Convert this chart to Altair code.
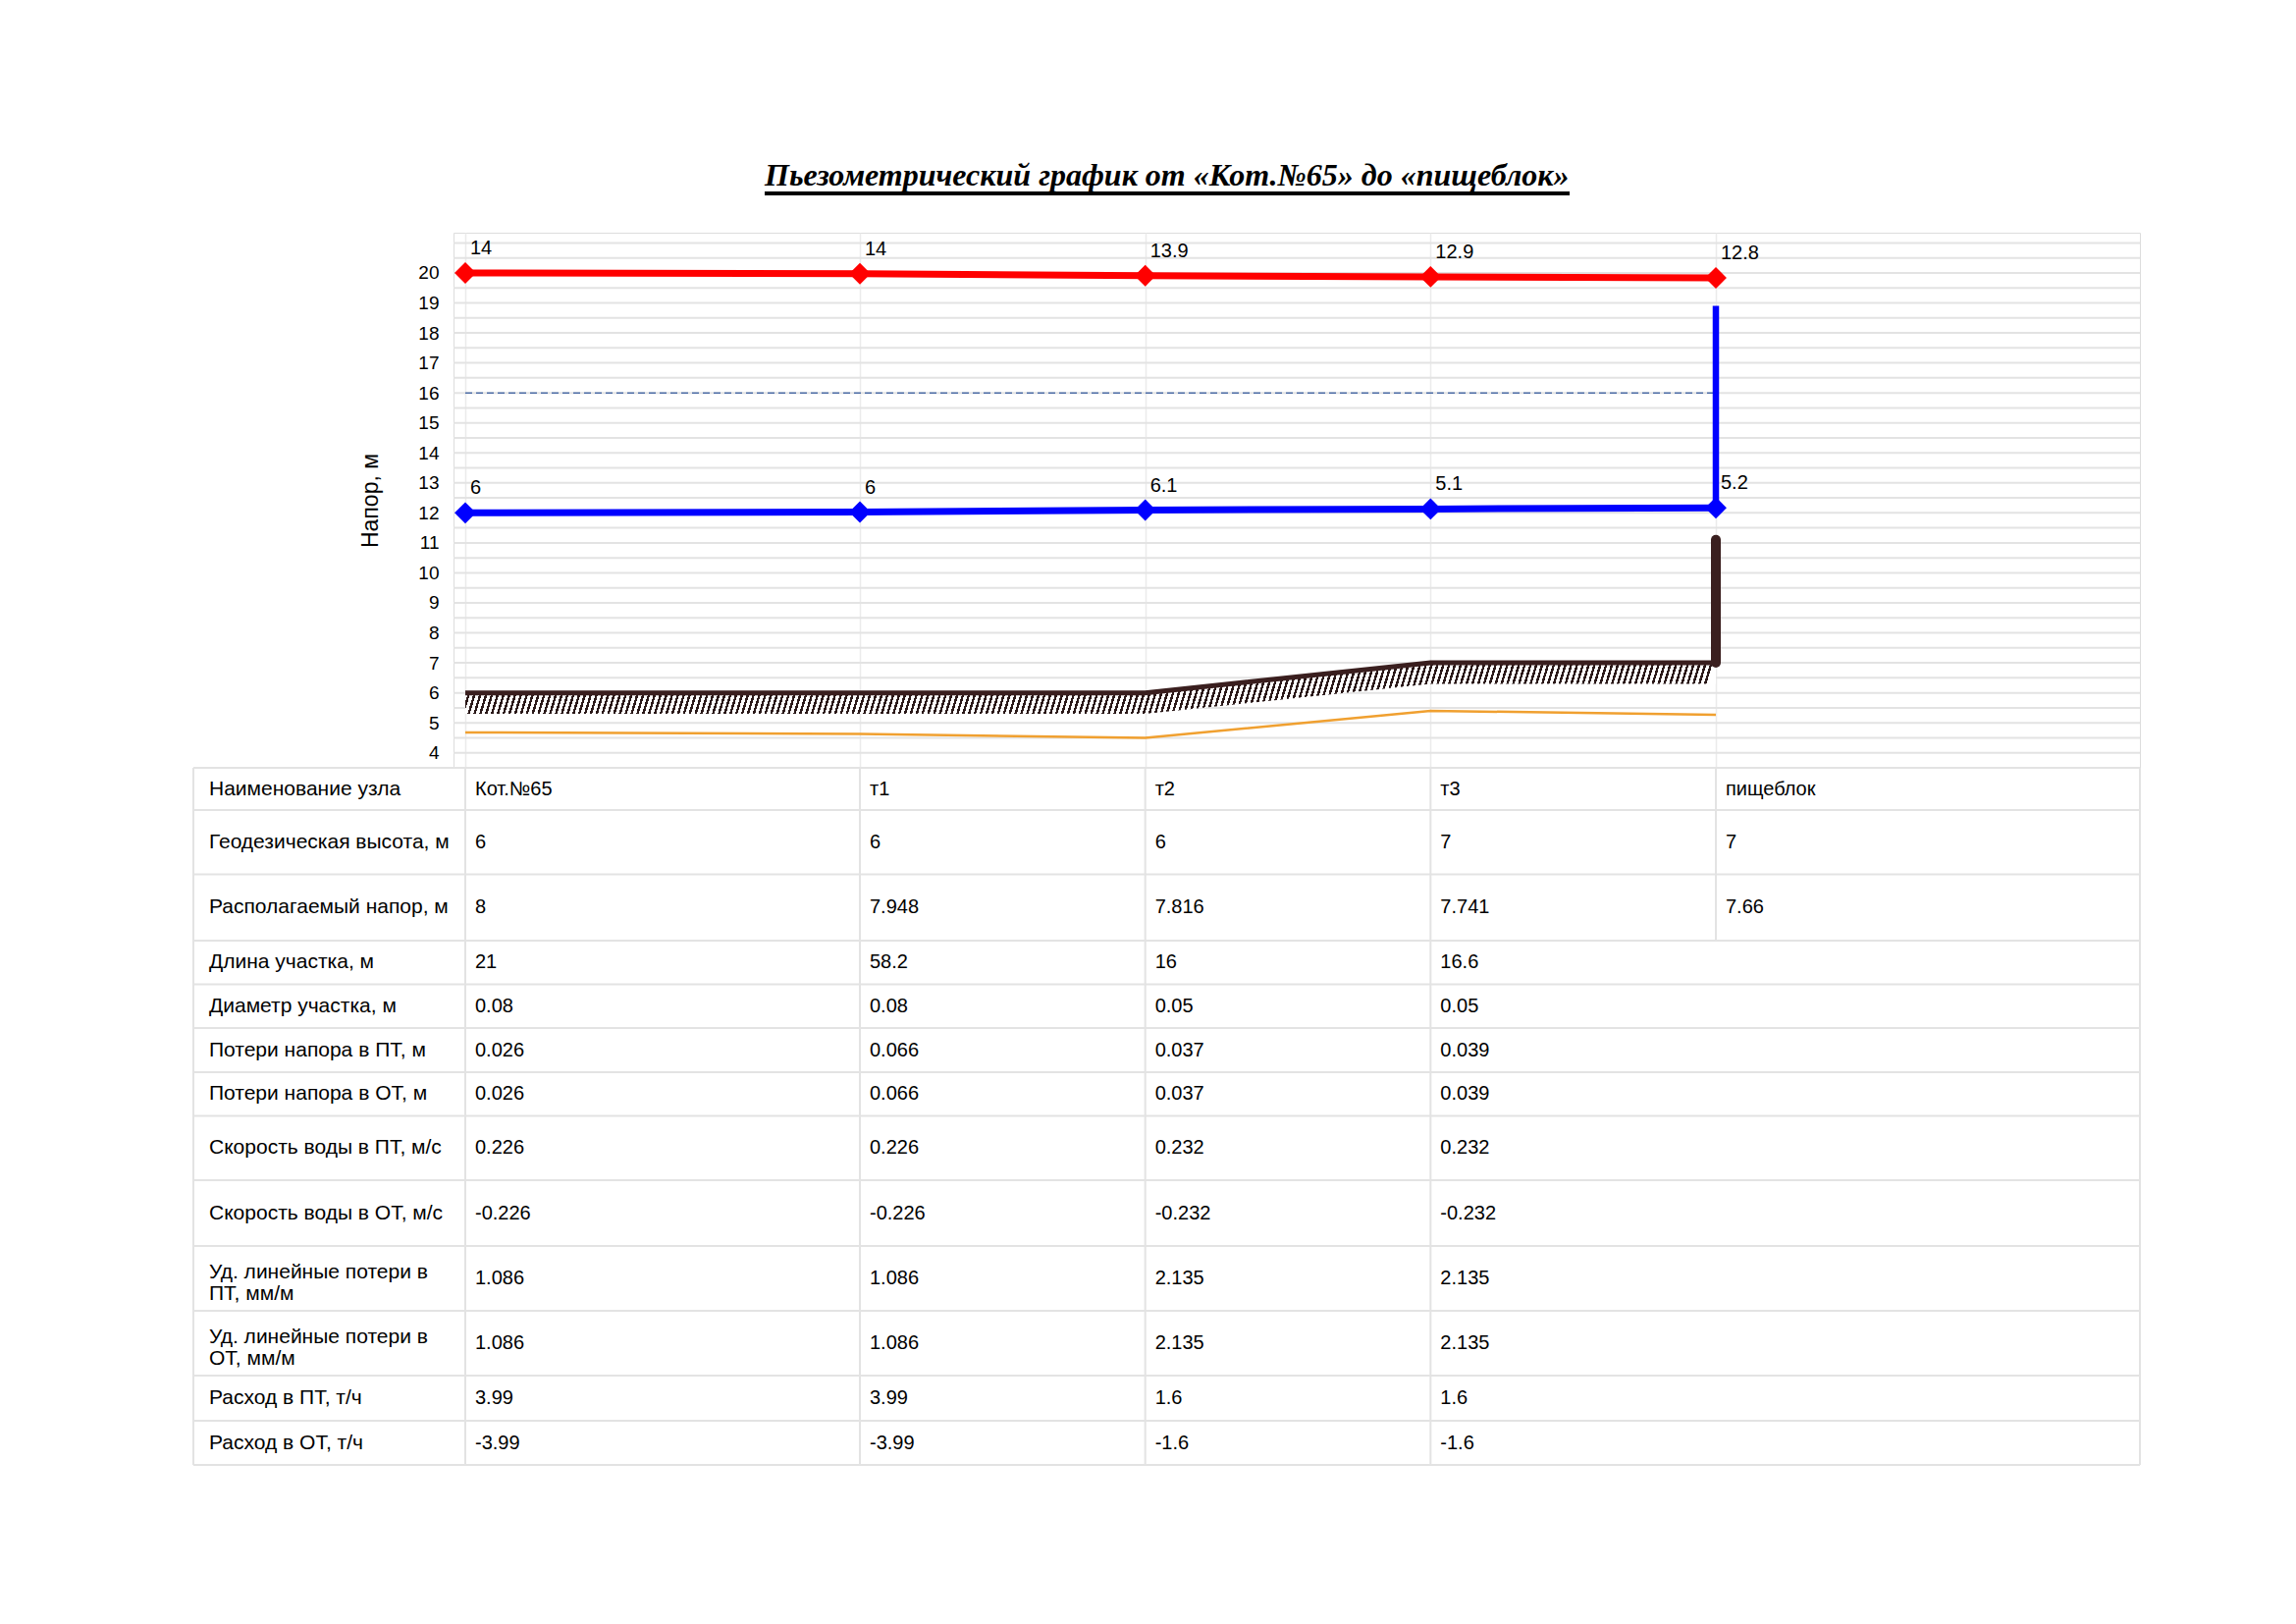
import altair as alt
import pandas as pd

# ---------------- data ----------------
title_text = "Пьезометрический график от «Кот.№65» до «пищеблок»"
axis_title = "Напор, м"

node_names = ["Кот.№65", "т1", "т2", "т3", "пищеблок"]
node_pos = [0, 1, 2, 3, 4]

supply_head = [20.0, 19.974, 19.908, 19.871, 19.832]
supply_text = ["14", "14", "13.9", "12.9", "12.8"]
return_head = [12.0, 12.026, 12.092, 12.129, 12.168]
return_text = ["6", "6", "6.1", "5.1", "5.2"]
geo_height = [6, 6, 6, 7, 7]
orange_line = [4.68, 4.63, 4.5, 5.4, 5.27]
static_head = [16, 16, 16, 16, 16]
blue_riser = [12.168, 18.9]
brown_riser = [7, 11.1]

y_tick_values = [3.5, 4, 4.5, 5, 5.5, 6, 6.5, 7, 7.5, 8, 8.5, 9, 9.5, 10, 10.5, 11,
                 11.5, 12, 12.5, 13, 13.5, 14, 14.5, 15, 15.5, 16, 16.5, 17, 17.5,
                 18, 18.5, 19, 19.5, 20, 20.5, 21]

row_labels = [
    "Наименование узла",
    "Геодезическая высота, м",
    "Располагаемый напор, м",
    "Длина участка, м",
    "Диаметр участка, м",
    "Потери напора в ПТ, м",
    "Потери напора в ОТ, м",
    "Скорость воды в ПТ, м/с",
    "Скорость воды в ОТ, м/с",
    "Уд. линейные потери в\nПТ, мм/м",
    "Уд. линейные потери в\nОТ, мм/м",
    "Расход в ПТ, т/ч",
    "Расход в ОТ, т/ч",
]
avail_head = [8, 7.948, 7.816, 7.741, 7.66]
seg_length = [21, 58.2, 16, 16.6]
seg_diam = [0.08, 0.08, 0.05, 0.05]
loss_supply = [0.026, 0.066, 0.037, 0.039]
loss_return = [0.026, 0.066, 0.037, 0.039]
vel_supply = [0.226, 0.226, 0.232, 0.232]
vel_return = [-0.226, -0.226, -0.232, -0.232]
spec_loss_supply = [1.086, 1.086, 2.135, 2.135]
spec_loss_return = [1.086, 1.086, 2.135, 2.135]
flow_supply = [3.99, 3.99, 1.6, 1.6]
flow_return = [-3.99, -3.99, -1.6, -1.6]

table_values = [node_names, geo_height, avail_head, seg_length, seg_diam,
                loss_supply, loss_return, vel_supply, vel_return,
                spec_loss_supply, spec_loss_return, flow_supply, flow_return]

# ---------------- layout ----------------
PLOT_W, PLOT_H = 1718, 545
row_heights = [43, 65.5, 67.5, 44.5, 44.5, 45, 44.5, 65.5, 67, 66, 66, 46, 45]
FONT = "Liberation Sans"
GRID = "#e3e3e3"

x_scale = alt.Scale(domain=[-1, 0, 1, 4, 5], range=[-265, 12, 414, 1286, 1718],
                    zero=False, nice=False)
x_axis = alt.Axis(values=node_pos, grid=True, gridColor="#ebebeb", gridWidth=1.5,
                  labels=False, ticks=False, domain=False, title=None)
y_scale = alt.Scale(domain=[3.5, 21.34], range=[PLOT_H, 0], zero=False, nice=False)
y_axis = alt.Axis(values=y_tick_values, grid=False,
                  ticks=False, tickSize=0, domain=False, labelOverlap=False,
                  labelExpr="datum.value >= 4 && datum.value <= 20 && datum.value % 1 == 0 ? format(datum.value, 'd') : ''",
                  labelFont=FONT, labelFontSize=19, labelColor="black", labelPadding=15,
                  title=axis_title, titleFont=FONT, titleFontSize=23,
                  titleFontWeight="normal", titleColor="black", titlePadding=36)


def X(field):
    return alt.X(field, type="quantitative", scale=x_scale, axis=x_axis)


def Y(field):
    return alt.Y(field, type="quantitative", scale=y_scale, axis=y_axis)


nodes_df = pd.DataFrame({
    "x": node_pos, "supply": supply_head, "ret": return_head, "geo": geo_height,
    "orange": orange_line, "static": static_head,
    "s_lab": supply_text, "r_lab": return_text,
})
blue_riser_df = pd.DataFrame({"x": [node_pos[-1]] * 2, "y": blue_riser})
brown_riser_df = pd.DataFrame({"x": [node_pos[-1]] * 2, "y": brown_riser})
grid_df = pd.DataFrame({"v": y_tick_values})

# hatch for the ground band: diagonal stripes made with gradient stops
dark = "#2a1818"
HATCH_N = 215
period = 1.0 / HATCH_N
stops = []
for i in range(HATCH_N):
    a = i * period
    b = a + 0.42 * period
    c = min(1.0, a + period)
    stops += [{"offset": round(a, 6), "color": dark},
              {"offset": round(b, 6), "color": dark},
              {"offset": round(b, 6), "color": "#ffffff"},
              {"offset": round(c, 6), "color": "#ffffff"}]
hatch = {"gradient": "linear", "x1": 0, "y1": 0, "x2": 1, "y2": 0.0122, "stops": stops}

base = alt.Chart(nodes_df)

hgrid = alt.Chart(grid_df).mark_rule(color=GRID, strokeWidth=2).encode(
    y=Y("v"), x=alt.value(0), x2=alt.value(PLOT_W))
hatch_area = base.mark_area(fill=hatch, stroke=None).transform_calculate(
    geo_low="datum.geo - 0.7"
).encode(x=X("x"), y=Y("geo"), y2="geo_low:Q")
ground = base.mark_line(color="#3a1f1f", strokeWidth=5).encode(x=X("x"), y=Y("geo"))
orange = base.mark_line(color="#f0a030", strokeWidth=2.5).encode(x=X("x"), y=Y("orange"))
static = base.mark_line(color="#4f6fa8", strokeWidth=1.5, strokeDash=[7, 4]).encode(
    x=X("x"), y=Y("static"))
brown_r = alt.Chart(brown_riser_df).mark_line(color="#3a1f1f", strokeWidth=10,
                                              strokeCap="round").encode(x=X("x"), y=Y("y"))
blue_r = alt.Chart(blue_riser_df).mark_line(color="#0000ff", strokeWidth=6.5).encode(
    x=X("x"), y=Y("y"))
blue_line = base.mark_line(color="#0000ff", strokeWidth=7).encode(x=X("x"), y=Y("ret"))
blue_pts = base.mark_point(shape="diamond", filled=True, size=480, color="#0000ff",
                           opacity=1).encode(x=X("x"), y=Y("ret"))
red_line = base.mark_line(color="#ff0000", strokeWidth=7).encode(x=X("x"), y=Y("supply"))
red_pts = base.mark_point(shape="diamond", filled=True, size=480, color="#ff0000",
                          opacity=1).encode(x=X("x"), y=Y("supply"))
red_lab = base.mark_text(align="left", baseline="alphabetic", dx=5, dy=-19, font=FONT,
                         fontSize=20, color="black").encode(x=X("x"), y=Y("supply"),
                                                            text="s_lab:N")
blue_lab = base.mark_text(align="left", baseline="alphabetic", dx=5, dy=-19, font=FONT,
                          fontSize=20, color="black").encode(x=X("x"), y=Y("ret"),
                                                             text="r_lab:N")
underline = alt.Chart(pd.DataFrame({"a": [0]})).mark_rule(color="black", strokeWidth=4).encode(
    x=alt.value(317), x2=alt.value(1137), y=alt.value(-40))

plot = alt.layer(hgrid, hatch_area, ground, orange, static, brown_r, blue_r, blue_line,
                 blue_pts, red_line, red_pts, red_lab, blue_lab, underline)

# ---------------- table ----------------
bounds = [0]
for h in row_heights:
    bounds.append(bounds[-1] + h)
total_h = bounds[-1]
ty_scale = alt.Scale(domain=[0, total_h], range=[PLOT_H, PLOT_H + total_h],
                     zero=False, nice=False)


def TY(field):
    return alt.Y(field, type="quantitative", scale=ty_scale, axis=None)


def fmt(v):
    return v if isinstance(v, str) else f"{v:g}"


centers = [(bounds[i] + bounds[i + 1]) / 2 for i in range(len(row_labels))]
label_cells = pd.DataFrame({"x": [-1] * len(row_labels), "y": centers, "t": row_labels})
single_cells = label_cells[~label_cells["t"].str.contains("\n")]
multi_cells = label_cells[label_cells["t"].str.contains("\n")]

val_rows = []
for r, vals in enumerate(table_values):
    for c, v in enumerate(vals):
        val_rows.append({"x": node_pos[c], "y": centers[r], "t": fmt(v)})
value_cells = pd.DataFrame(val_rows)

hlines = pd.DataFrame({"x0": [-1] * len(bounds), "x1": [5] * len(bounds), "y": bounds})
vlines = pd.DataFrame({
    "x": [-1, 0, 1, 2, 3, 5, 4],
    "y0": [0] * 7,
    "y1": [total_h] * 6 + [bounds[3]],
})

t_h = alt.Chart(hlines).mark_rule(color=GRID, strokeWidth=2).encode(
    x=X("x0"), x2="x1:Q", y=TY("y"))
t_v = alt.Chart(vlines).mark_rule(color=GRID, strokeWidth=2).encode(
    x=X("x"), y=TY("y0"), y2="y1:Q")
t_lab1 = alt.Chart(single_cells).mark_text(align="left", baseline="middle", dx=16,
                                           font=FONT, fontSize=21, color="black").encode(
    x=X("x"), y=TY("y"), text="t:N")
t_lab2 = alt.Chart(multi_cells).mark_text(align="left", baseline="middle", dx=16, dy=-6.5,
                                          font=FONT, fontSize=21, color="black",
                                          lineBreak="\n", lineHeight=22).encode(
    x=X("x"), y=TY("y"), text="t:N")
t_val = alt.Chart(value_cells).mark_text(align="left", baseline="middle", dx=10,
                                         font=FONT, fontSize=20, color="black").encode(
    x=X("x"), y=TY("y"), text="t:N")

table = alt.layer(t_h, t_v, t_lab1, t_lab2, t_val)

chart = alt.layer(plot, table).resolve_scale(y="independent").properties(
    width=PLOT_W, height=PLOT_H,
    title=alt.TitleParams(text=title_text, font="Liberation Serif", fontSize=32,
                          fontStyle="italic", fontWeight="bold", color="black",
                          anchor="start", frame="group", dx=317, dy=31,
                          baseline="alphabetic", offset=5),
    autosize=alt.AutoSizeParams(type="none"),
    padding={"left": 454, "top": 229, "right": 140, "bottom": 740},
).configure_view(stroke="#e3e3e3", strokeWidth=2).configure(font=FONT)

chart.save("out.html", embed_options={"renderer": "svg", "actions": False})
